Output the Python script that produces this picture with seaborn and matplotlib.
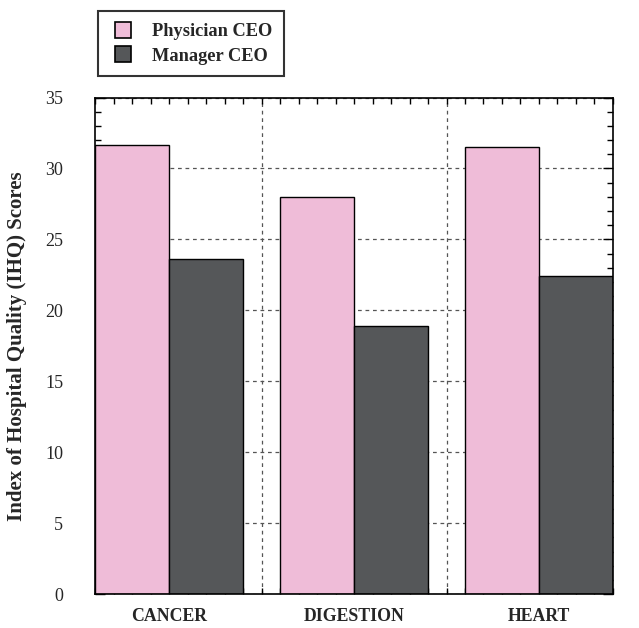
import pandas as pd
import seaborn as sns
import matplotlib.pyplot as plt
from matplotlib.lines import Line2D
from matplotlib.ticker import MultipleLocator

categories = ['CANCER', 'DIGESTION', 'HEART']
physician_ceo = [31.65, 28.0, 31.5]
manager_ceo = [23.65, 18.9, 22.45]
series = ['Physician CEO', 'Manager CEO']
colors = ['#efbcd8', '#555759']

df = pd.DataFrame({
    'Category': categories * 2,
    'Score': physician_ceo + manager_ceo,
    'CEO': [series[0]] * 3 + [series[1]] * 3,
})

sns.set_theme(style='white')
plt.rcParams['font.family'] = ['Liberation Serif', 'DejaVu Serif']

fig = plt.figure(figsize=(6.39, 6.28), dpi=100)
ax = fig.add_axes([0.1487, 0.054, 0.8106, 0.7907])

sns.barplot(data=df, x='Category', y='Score', hue='CEO', palette=colors,
            width=0.8, edgecolor='black', linewidth=1, saturation=1,
            ax=ax, legend=False)

ax.set_xlim(-0.4, 2.4)
ax.set_ylim(0, 35)
ax.set_axisbelow(True)
ax.yaxis.grid(True, linestyle=(0, (3, 3)), color='#555555', linewidth=0.9)
for xv in [0.5, 1.5]:
    ax.axvline(xv, linestyle=(0, (3, 3)), color='#555555', linewidth=0.9, zorder=0)

ax.yaxis.set_major_locator(MultipleLocator(5))
ax.yaxis.set_minor_locator(MultipleLocator(1))
ax.xaxis.set_minor_locator(MultipleLocator(0.1))
ax.tick_params(which='both', direction='in', top=True, right=True,
               bottom=True, left=True, color='black')
ax.tick_params(axis='y', which='major', length=7, width=1, labelsize=13, pad=23)
ax.tick_params(axis='y', which='minor', length=4, width=1)
ax.tick_params(axis='x', which='both', length=4, width=1, pad=10)
for lbl in ax.get_xticklabels():
    lbl.set_fontweight('bold')
    lbl.set_fontsize(12.8)

for s in ax.spines.values():
    s.set_color('black')
    s.set_linewidth(1.2)

ax.set_xlabel('')
ax.set_ylabel('Index of Hospital Quality (IHQ) Scores', fontsize=15,
              fontweight='bold', labelpad=13)

handles = [Line2D([], [], linestyle='none', marker='s', markersize=11,
                  markerfacecolor=c, markeredgecolor='black', markeredgewidth=1.2)
           for c in colors]
leg = fig.legend(handles, series, loc='upper left', bbox_to_anchor=(0.153, 0.982),
                 frameon=True, fancybox=False, edgecolor='black',
                 prop={'weight': 'bold', 'size': 13.2},
                 handlelength=1.5, handletextpad=0.82,
                 borderpad=0.65, labelspacing=0.4, borderaxespad=0)
leg.get_frame().set_linewidth(1.5)

fig.savefig('out.png', dpi=100)
